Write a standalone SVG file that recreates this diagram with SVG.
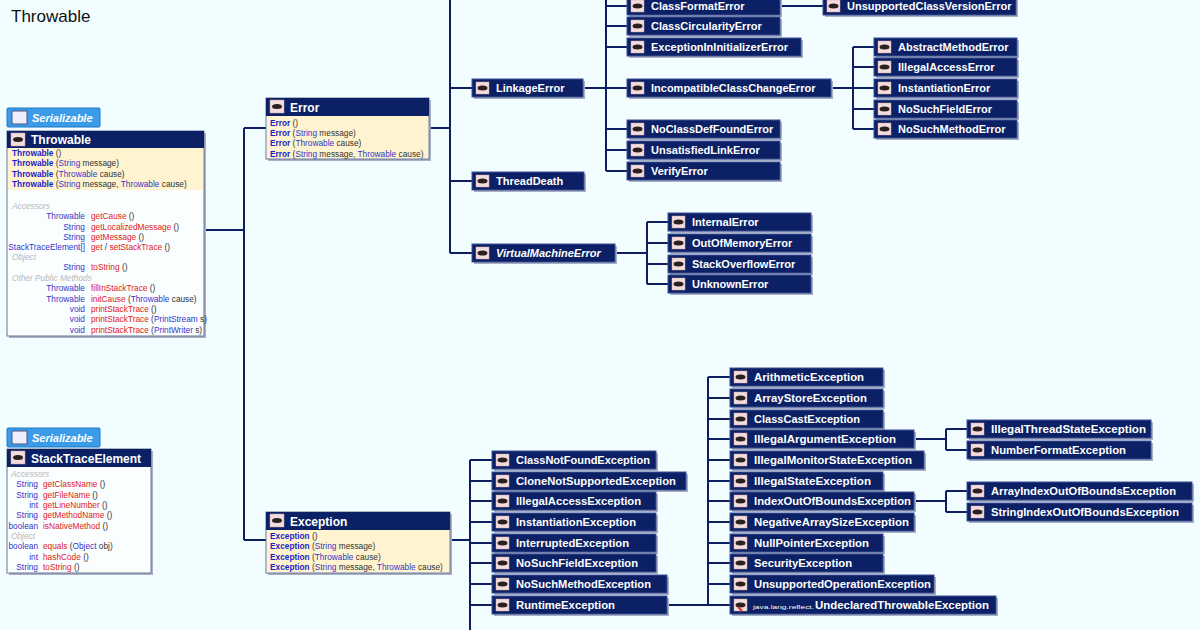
<svg xmlns="http://www.w3.org/2000/svg" width="1200" height="630" viewBox="0 0 1200 630">
<defs>
<style>
.bg{fill:#f2fdff}
.ln{stroke:#0d1f60;stroke-width:2;fill:none}
.sh{fill:#a9b0c4}
.nb{fill:#0c2165;stroke:#3b4f94;stroke-width:1}
.ic{fill:#f4dcdc;stroke:#c9a9a9;stroke-width:0.5}
.ie{fill:#2a2020}
.nt{font-family:"Liberation Sans",Arial,sans-serif;font-weight:bold;font-size:11px;fill:#fff}
.ns{font-family:"Liberation Sans",Arial,sans-serif;font-size:6px;fill:#fff}
.ci{font-style:italic}
.hd{font-family:"Liberation Sans",Arial,sans-serif;font-weight:bold;font-size:12px;fill:#fff}
.bx{fill:#fafeff;stroke:#6b7590;stroke-width:1}
.yl{fill:#fff4cf}
.m{font-family:"Liberation Sans",Arial,sans-serif;font-size:8.3px;fill:#333}
.k{fill:#1d1dc8;font-weight:bold}
.t{fill:#3535c8}
.r{fill:#e02020}
.s{fill:#b8b8b8;font-style:italic}
.tag{fill:#3a9be8;stroke:#2078c8;stroke-width:1}
.tagt{font-family:"Liberation Sans",Arial,sans-serif;font-weight:bold;font-style:italic;font-size:11px;fill:#fff}
.end{text-anchor:end}
</style>
</defs>
<rect class="bg" width="1200" height="630"/>
<text x="11" y="22" font-family="Liberation Sans,Arial,sans-serif" font-size="17" fill="#111">Throwable</text>

<g id="connectors">
<path class="ln" d="M204 230H244M244 128V540M244 128H266M244 540H266"/>
<path class="ln" d="M429 128H450M450 0V253M450 88H472M450 181H472M450 253H472"/>
<path class="ln" d="M583 88H606M606 0V171M606 6H627M606 26H627M606 47H627M606 88H627M606 129H627M606 150H627M606 171H627"/>
<path class="ln" d="M780 6H823"/>
<path class="ln" d="M831 88H853M853 47V129M853 47H874M853 67H874M853 88H874M853 109H874M853 129H874"/>
<path class="ln" d="M615 253H647M647 222V284M647 222H668M647 243H668M647 264H668M647 284H668"/>
<path class="ln" d="M450 540H470M470 460V630M470 460H492M470 481H492M470 501H492M470 522H492M470 543H492M470 563H492M470 584H492M470 605H492"/>
<path class="ln" d="M667 605H708M708 377V605M708 377H730M708 398H730M708 419H730M708 439H730M708 460H730M708 481H730M708 501H730M708 522H730M708 543H730M708 563H730M708 584H730M708 605H730"/>
<path class="ln" d="M914 439H946M946 429V450M946 429H967M946 450H967"/>
<path class="ln" d="M914 501H946M946 491V512M946 491H967M946 512H967"/>
</g>

<!-- Throwable -->
<g id="tag-throwable">
<rect class="tag" x="7" y="108" width="93" height="19" rx="1"/>
<rect x="12" y="111" width="15" height="13" fill="#eef" stroke="#557"/>
<text class="tagt" x="32" y="122">Serializable</text>
</g>
<g id="throwable">
<rect class="sh" x="9" y="133" width="197" height="205"/>
<rect class="bx" x="7" y="131" width="197" height="205"/>
<rect class="yl" x="8" y="148" width="195" height="42"/>
<rect fill="#0c2165" x="7" y="131" width="197" height="17"/>
<rect class="ic" x="11" y="133" width="14" height="13"/><ellipse class="ie" cx="18" cy="139.5" rx="5" ry="2.5"/>
<text class="hd" x="31" y="144">Throwable</text>
<text class="m" x="12" y="156"><tspan class="k">Throwable</tspan> ()</text>
<text class="m" x="12" y="166"><tspan class="k">Throwable</tspan> (<tspan class="t">String</tspan> message)</text>
<text class="m" x="12" y="177"><tspan class="k">Throwable</tspan> (<tspan class="t">Throwable</tspan> cause)</text>
<text class="m" x="12" y="187"><tspan class="k">Throwable</tspan> (<tspan class="t">String</tspan> message, <tspan class="t">Throwable</tspan> cause)</text>
<text class="m s" x="12" y="209">Accessors</text>
<text class="m t end" x="85" y="219">Throwable</text><text class="m" x="91" y="219"><tspan class="r">getCause</tspan> ()</text>
<text class="m t end" x="85" y="230">String</text><text class="m" x="91" y="230"><tspan class="r">getLocalizedMessage</tspan> ()</text>
<text class="m t end" x="85" y="240">String</text><text class="m" x="91" y="240"><tspan class="r">getMessage</tspan> ()</text>
<text class="m t end" x="85" y="250">StackTraceElement[]</text><text class="m" x="91" y="250"><tspan class="r">get</tspan> / <tspan class="r">setStackTrace</tspan> ()</text>
<text class="m s" x="12" y="260">Object</text>
<text class="m t end" x="85" y="270">String</text><text class="m" x="91" y="270"><tspan class="r">toString</tspan> ()</text>
<text class="m s" x="12" y="281">Other Public Methods</text>
<text class="m t end" x="85" y="291">Throwable</text><text class="m" x="91" y="291"><tspan class="r">fillInStackTrace</tspan> ()</text>
<text class="m t end" x="85" y="302">Throwable</text><text class="m" x="91" y="302"><tspan class="r">initCause</tspan> (<tspan class="t">Throwable</tspan> cause)</text>
<text class="m t end" x="85" y="312">void</text><text class="m" x="91" y="312"><tspan class="r">printStackTrace</tspan> ()</text>
<text class="m t end" x="85" y="322">void</text><text class="m" x="91" y="322"><tspan class="r">printStackTrace</tspan> (<tspan class="t">PrintStream</tspan> s)</text>
<text class="m t end" x="85" y="333">void</text><text class="m" x="91" y="333"><tspan class="r">printStackTrace</tspan> (<tspan class="t">PrintWriter</tspan> s)</text>
</g>

<!-- StackTraceElement -->
<g id="tag-ste">
<rect class="tag" x="7" y="428" width="93" height="19" rx="1"/>
<rect x="12" y="431" width="15" height="13" fill="#eef" stroke="#557"/>
<text class="tagt" x="32" y="442">Serializable</text>
</g>
<g id="stacktraceelement">
<rect class="sh" x="9" y="451" width="144" height="124"/>
<rect class="bx" x="7" y="449" width="144" height="124"/>
<rect fill="#0c2165" x="7" y="449" width="144" height="18"/>
<rect class="ic" x="11" y="451" width="14" height="13"/><ellipse class="ie" cx="18" cy="457.5" rx="5" ry="2.5"/>
<text class="hd" x="31" y="463">StackTraceElement</text>
<text class="m s" x="11" y="477">Accessors</text>
<text class="m t end" x="38" y="487">String</text><text class="m" x="43" y="487"><tspan class="r">getClassName</tspan> ()</text>
<text class="m t end" x="38" y="498">String</text><text class="m" x="43" y="498"><tspan class="r">getFileName</tspan> ()</text>
<text class="m t end" x="38" y="508">int</text><text class="m" x="43" y="508"><tspan class="r">getLineNumber</tspan> ()</text>
<text class="m t end" x="38" y="518">String</text><text class="m" x="43" y="518"><tspan class="r">getMethodName</tspan> ()</text>
<text class="m t end" x="38" y="529">boolean</text><text class="m" x="43" y="529"><tspan class="r">isNativeMethod</tspan> ()</text>
<text class="m s" x="11" y="539">Object</text>
<text class="m t end" x="38" y="549">boolean</text><text class="m" x="43" y="549"><tspan class="r">equals</tspan> (<tspan class="t">Object</tspan> obj)</text>
<text class="m t end" x="38" y="560">int</text><text class="m" x="43" y="560"><tspan class="r">hashCode</tspan> ()</text>
<text class="m t end" x="38" y="570">String</text><text class="m" x="43" y="570"><tspan class="r">toString</tspan> ()</text>
</g>

<!-- Error -->
<g id="error">
<rect class="sh" x="268" y="100" width="163" height="61"/>
<rect class="bx" x="266" y="98" width="163" height="61"/>
<rect class="yl" x="267" y="116" width="161" height="42"/>
<rect fill="#0c2165" x="266" y="98" width="163" height="18"/>
<rect class="ic" x="270" y="100" width="14" height="13"/><ellipse class="ie" cx="277" cy="106.5" rx="5" ry="2.5"/>
<text class="hd" x="290" y="112">Error</text>
<text class="m" x="270" y="126"><tspan class="k">Error</tspan> ()</text>
<text class="m" x="270" y="136"><tspan class="k">Error</tspan> (<tspan class="t">String</tspan> message)</text>
<text class="m" x="270" y="146"><tspan class="k">Error</tspan> (<tspan class="t">Throwable</tspan> cause)</text>
<text class="m" x="270" y="157"><tspan class="k">Error</tspan> (<tspan class="t">String</tspan> message, <tspan class="t">Throwable</tspan> cause)</text>
</g>

<!-- Exception -->
<g id="exception">
<rect class="sh" x="268" y="514" width="184" height="61"/>
<rect class="bx" x="266" y="512" width="184" height="61"/>
<rect class="yl" x="267" y="530" width="182" height="42"/>
<rect fill="#0c2165" x="266" y="512" width="184" height="18"/>
<rect class="ic" x="270" y="514" width="14" height="13"/><ellipse class="ie" cx="277" cy="520.5" rx="5" ry="2.5"/>
<text class="hd" x="290" y="526">Exception</text>
<text class="m" x="270" y="539"><tspan class="k">Exception</tspan> ()</text>
<text class="m" x="270" y="549"><tspan class="k">Exception</tspan> (<tspan class="t">String</tspan> message)</text>
<text class="m" x="270" y="560"><tspan class="k">Exception</tspan> (<tspan class="t">Throwable</tspan> cause)</text>
<text class="m" x="270" y="570"><tspan class="k">Exception</tspan> (<tspan class="t">String</tspan> message, <tspan class="t">Throwable</tspan> cause)</text>
</g>

<!-- Error-side nodes -->
<g id="LinkageError" transform="translate(472,79)"><rect class="sh" x="2" y="2" width="111" height="18"/><rect class="nb" width="111" height="18"/><rect class="ic" x="4" y="3" width="13" height="12"/><ellipse class="ie" cx="10.5" cy="9" rx="5" ry="2.5"/><text class="nt" x="24" y="13">LinkageError</text></g>
<g id="ThreadDeath" transform="translate(472,172)"><rect class="sh" x="2" y="2" width="112" height="18"/><rect class="nb" width="112" height="18"/><rect class="ic" x="4" y="3" width="13" height="12"/><ellipse class="ie" cx="10.5" cy="9" rx="5" ry="2.5"/><text class="nt" x="24" y="13">ThreadDeath</text></g>
<g id="VirtualMachineError" transform="translate(472,244)"><rect class="sh" x="2" y="2" width="143" height="18"/><rect class="nb" width="143" height="18"/><rect class="ic" x="4" y="3" width="13" height="12"/><ellipse class="ie" cx="10.5" cy="9" rx="5" ry="2.5"/><text class="nt ci" x="24" y="13">VirtualMachineError</text></g>
<g id="ClassFormatError" transform="translate(627,-3)"><rect class="sh" x="2" y="2" width="153" height="18"/><rect class="nb" width="153" height="18"/><rect class="ic" x="4" y="3" width="13" height="12"/><ellipse class="ie" cx="10.5" cy="9" rx="5" ry="2.5"/><text class="nt" x="24" y="13">ClassFormatError</text></g>
<g id="ClassCircularityError" transform="translate(627,17)"><rect class="sh" x="2" y="2" width="153" height="18"/><rect class="nb" width="153" height="18"/><rect class="ic" x="4" y="3" width="13" height="12"/><ellipse class="ie" cx="10.5" cy="9" rx="5" ry="2.5"/><text class="nt" x="24" y="13">ClassCircularityError</text></g>
<g id="ExceptionInInitializerError" transform="translate(627,38)"><rect class="sh" x="2" y="2" width="174" height="18"/><rect class="nb" width="174" height="18"/><rect class="ic" x="4" y="3" width="13" height="12"/><ellipse class="ie" cx="10.5" cy="9" rx="5" ry="2.5"/><text class="nt" x="24" y="13">ExceptionInInitializerError</text></g>
<g id="IncompatibleClassChangeError" transform="translate(627,79)"><rect class="sh" x="2" y="2" width="204" height="18"/><rect class="nb" width="204" height="18"/><rect class="ic" x="4" y="3" width="13" height="12"/><ellipse class="ie" cx="10.5" cy="9" rx="5" ry="2.5"/><text class="nt" x="24" y="13">IncompatibleClassChangeError</text></g>
<g id="NoClassDefFoundError" transform="translate(627,120)"><rect class="sh" x="2" y="2" width="153" height="18"/><rect class="nb" width="153" height="18"/><rect class="ic" x="4" y="3" width="13" height="12"/><ellipse class="ie" cx="10.5" cy="9" rx="5" ry="2.5"/><text class="nt" x="24" y="13">NoClassDefFoundError</text></g>
<g id="UnsatisfiedLinkError" transform="translate(627,141)"><rect class="sh" x="2" y="2" width="153" height="18"/><rect class="nb" width="153" height="18"/><rect class="ic" x="4" y="3" width="13" height="12"/><ellipse class="ie" cx="10.5" cy="9" rx="5" ry="2.5"/><text class="nt" x="24" y="13">UnsatisfiedLinkError</text></g>
<g id="VerifyError" transform="translate(627,162)"><rect class="sh" x="2" y="2" width="153" height="18"/><rect class="nb" width="153" height="18"/><rect class="ic" x="4" y="3" width="13" height="12"/><ellipse class="ie" cx="10.5" cy="9" rx="5" ry="2.5"/><text class="nt" x="24" y="13">VerifyError</text></g>
<g id="UnsupportedClassVersionError" transform="translate(823,-3)"><rect class="sh" x="2" y="2" width="193" height="18"/><rect class="nb" width="193" height="18"/><rect class="ic" x="4" y="3" width="13" height="12"/><ellipse class="ie" cx="10.5" cy="9" rx="5" ry="2.5"/><text class="nt" x="24" y="13">UnsupportedClassVersionError</text></g>
<g id="AbstractMethodError" transform="translate(874,38)"><rect class="sh" x="2" y="2" width="143" height="18"/><rect class="nb" width="143" height="18"/><rect class="ic" x="4" y="3" width="13" height="12"/><ellipse class="ie" cx="10.5" cy="9" rx="5" ry="2.5"/><text class="nt" x="24" y="13">AbstractMethodError</text></g>
<g id="IllegalAccessError" transform="translate(874,58)"><rect class="sh" x="2" y="2" width="143" height="18"/><rect class="nb" width="143" height="18"/><rect class="ic" x="4" y="3" width="13" height="12"/><ellipse class="ie" cx="10.5" cy="9" rx="5" ry="2.5"/><text class="nt" x="24" y="13">IllegalAccessError</text></g>
<g id="InstantiationError" transform="translate(874,79)"><rect class="sh" x="2" y="2" width="143" height="18"/><rect class="nb" width="143" height="18"/><rect class="ic" x="4" y="3" width="13" height="12"/><ellipse class="ie" cx="10.5" cy="9" rx="5" ry="2.5"/><text class="nt" x="24" y="13">InstantiationError</text></g>
<g id="NoSuchFieldError" transform="translate(874,100)"><rect class="sh" x="2" y="2" width="143" height="18"/><rect class="nb" width="143" height="18"/><rect class="ic" x="4" y="3" width="13" height="12"/><ellipse class="ie" cx="10.5" cy="9" rx="5" ry="2.5"/><text class="nt" x="24" y="13">NoSuchFieldError</text></g>
<g id="NoSuchMethodError" transform="translate(874,120)"><rect class="sh" x="2" y="2" width="143" height="18"/><rect class="nb" width="143" height="18"/><rect class="ic" x="4" y="3" width="13" height="12"/><ellipse class="ie" cx="10.5" cy="9" rx="5" ry="2.5"/><text class="nt" x="24" y="13">NoSuchMethodError</text></g>
<g id="InternalError" transform="translate(668,213)"><rect class="sh" x="2" y="2" width="143" height="18"/><rect class="nb" width="143" height="18"/><rect class="ic" x="4" y="3" width="13" height="12"/><ellipse class="ie" cx="10.5" cy="9" rx="5" ry="2.5"/><text class="nt" x="24" y="13">InternalError</text></g>
<g id="OutOfMemoryError" transform="translate(668,234)"><rect class="sh" x="2" y="2" width="143" height="18"/><rect class="nb" width="143" height="18"/><rect class="ic" x="4" y="3" width="13" height="12"/><ellipse class="ie" cx="10.5" cy="9" rx="5" ry="2.5"/><text class="nt" x="24" y="13">OutOfMemoryError</text></g>
<g id="StackOverflowError" transform="translate(668,255)"><rect class="sh" x="2" y="2" width="143" height="18"/><rect class="nb" width="143" height="18"/><rect class="ic" x="4" y="3" width="13" height="12"/><ellipse class="ie" cx="10.5" cy="9" rx="5" ry="2.5"/><text class="nt" x="24" y="13">StackOverflowError</text></g>
<g id="UnknownError" transform="translate(668,275)"><rect class="sh" x="2" y="2" width="143" height="18"/><rect class="nb" width="143" height="18"/><rect class="ic" x="4" y="3" width="13" height="12"/><ellipse class="ie" cx="10.5" cy="9" rx="5" ry="2.5"/><text class="nt" x="24" y="13">UnknownError</text></g>

<!-- Exception-side nodes -->
<g id="ClassNotFoundException" transform="translate(492,451)"><rect class="sh" x="2" y="2" width="164" height="18"/><rect class="nb" width="164" height="18"/><rect class="ic" x="4" y="3" width="13" height="12"/><ellipse class="ie" cx="10.5" cy="9" rx="5" ry="2.5"/><text class="nt" x="24" y="13" textLength="134" lengthAdjust="spacingAndGlyphs">ClassNotFoundException</text></g>
<g id="CloneNotSupportedException" transform="translate(492,472)"><rect class="sh" x="2" y="2" width="194" height="18"/><rect class="nb" width="194" height="18"/><rect class="ic" x="4" y="3" width="13" height="12"/><ellipse class="ie" cx="10.5" cy="9" rx="5" ry="2.5"/><text class="nt" x="24" y="13" textLength="160" lengthAdjust="spacingAndGlyphs">CloneNotSupportedException</text></g>
<g id="IllegalAccessException" transform="translate(492,492)"><rect class="sh" x="2" y="2" width="164" height="18"/><rect class="nb" width="164" height="18"/><rect class="ic" x="4" y="3" width="13" height="12"/><ellipse class="ie" cx="10.5" cy="9" rx="5" ry="2.5"/><text class="nt" x="24" y="13" textLength="125" lengthAdjust="spacingAndGlyphs">IllegalAccessException</text></g>
<g id="InstantiationException" transform="translate(492,513)"><rect class="sh" x="2" y="2" width="164" height="18"/><rect class="nb" width="164" height="18"/><rect class="ic" x="4" y="3" width="13" height="12"/><ellipse class="ie" cx="10.5" cy="9" rx="5" ry="2.5"/><text class="nt" x="24" y="13" textLength="120" lengthAdjust="spacingAndGlyphs">InstantiationException</text></g>
<g id="InterruptedException" transform="translate(492,534)"><rect class="sh" x="2" y="2" width="164" height="18"/><rect class="nb" width="164" height="18"/><rect class="ic" x="4" y="3" width="13" height="12"/><ellipse class="ie" cx="10.5" cy="9" rx="5" ry="2.5"/><text class="nt" x="24" y="13" textLength="113" lengthAdjust="spacingAndGlyphs">InterruptedException</text></g>
<g id="NoSuchFieldException" transform="translate(492,554)"><rect class="sh" x="2" y="2" width="164" height="18"/><rect class="nb" width="164" height="18"/><rect class="ic" x="4" y="3" width="13" height="12"/><ellipse class="ie" cx="10.5" cy="9" rx="5" ry="2.5"/><text class="nt" x="24" y="13" textLength="122" lengthAdjust="spacingAndGlyphs">NoSuchFieldException</text></g>
<g id="NoSuchMethodException" transform="translate(492,575)"><rect class="sh" x="2" y="2" width="175" height="18"/><rect class="nb" width="175" height="18"/><rect class="ic" x="4" y="3" width="13" height="12"/><ellipse class="ie" cx="10.5" cy="9" rx="5" ry="2.5"/><text class="nt" x="24" y="13" textLength="135" lengthAdjust="spacingAndGlyphs">NoSuchMethodException</text></g>
<g id="RuntimeException" transform="translate(492,596)"><rect class="sh" x="2" y="2" width="175" height="18"/><rect class="nb" width="175" height="18"/><rect class="ic" x="4" y="3" width="13" height="12"/><ellipse class="ie" cx="10.5" cy="9" rx="5" ry="2.5"/><text class="nt" x="24" y="13" textLength="99" lengthAdjust="spacingAndGlyphs">RuntimeException</text></g>
<g id="ArithmeticException" transform="translate(730,368)"><rect class="sh" x="2" y="2" width="153" height="18"/><rect class="nb" width="153" height="18"/><rect class="ic" x="4" y="3" width="13" height="12"/><ellipse class="ie" cx="10.5" cy="9" rx="5" ry="2.5"/><text class="nt" x="24" y="13" textLength="110" lengthAdjust="spacingAndGlyphs">ArithmeticException</text></g>
<g id="ArrayStoreException" transform="translate(730,389)"><rect class="sh" x="2" y="2" width="153" height="18"/><rect class="nb" width="153" height="18"/><rect class="ic" x="4" y="3" width="13" height="12"/><ellipse class="ie" cx="10.5" cy="9" rx="5" ry="2.5"/><text class="nt" x="24" y="13" textLength="113" lengthAdjust="spacingAndGlyphs">ArrayStoreException</text></g>
<g id="ClassCastException" transform="translate(730,410)"><rect class="sh" x="2" y="2" width="153" height="18"/><rect class="nb" width="153" height="18"/><rect class="ic" x="4" y="3" width="13" height="12"/><ellipse class="ie" cx="10.5" cy="9" rx="5" ry="2.5"/><text class="nt" x="24" y="13" textLength="106" lengthAdjust="spacingAndGlyphs">ClassCastException</text></g>
<g id="IllegalArgumentException" transform="translate(730,430)"><rect class="sh" x="2" y="2" width="184" height="18"/><rect class="nb" width="184" height="18"/><rect class="ic" x="4" y="3" width="13" height="12"/><ellipse class="ie" cx="10.5" cy="9" rx="5" ry="2.5"/><text class="nt" x="24" y="13" textLength="142" lengthAdjust="spacingAndGlyphs">IllegalArgumentException</text></g>
<g id="IllegalMonitorStateException" transform="translate(730,451)"><rect class="sh" x="2" y="2" width="194" height="18"/><rect class="nb" width="194" height="18"/><rect class="ic" x="4" y="3" width="13" height="12"/><ellipse class="ie" cx="10.5" cy="9" rx="5" ry="2.5"/><text class="nt" x="24" y="13" textLength="158" lengthAdjust="spacingAndGlyphs">IllegalMonitorStateException</text></g>
<g id="IllegalStateException" transform="translate(730,472)"><rect class="sh" x="2" y="2" width="153" height="18"/><rect class="nb" width="153" height="18"/><rect class="ic" x="4" y="3" width="13" height="12"/><ellipse class="ie" cx="10.5" cy="9" rx="5" ry="2.5"/><text class="nt" x="24" y="13" textLength="117" lengthAdjust="spacingAndGlyphs">IllegalStateException</text></g>
<g id="IndexOutOfBoundsException" transform="translate(730,492)"><rect class="sh" x="2" y="2" width="184" height="18"/><rect class="nb" width="184" height="18"/><rect class="ic" x="4" y="3" width="13" height="12"/><ellipse class="ie" cx="10.5" cy="9" rx="5" ry="2.5"/><text class="nt" x="24" y="13" textLength="157" lengthAdjust="spacingAndGlyphs">IndexOutOfBoundsException</text></g>
<g id="NegativeArraySizeException" transform="translate(730,513)"><rect class="sh" x="2" y="2" width="184" height="18"/><rect class="nb" width="184" height="18"/><rect class="ic" x="4" y="3" width="13" height="12"/><ellipse class="ie" cx="10.5" cy="9" rx="5" ry="2.5"/><text class="nt" x="24" y="13" textLength="155" lengthAdjust="spacingAndGlyphs">NegativeArraySizeException</text></g>
<g id="NullPointerException" transform="translate(730,534)"><rect class="sh" x="2" y="2" width="153" height="18"/><rect class="nb" width="153" height="18"/><rect class="ic" x="4" y="3" width="13" height="12"/><ellipse class="ie" cx="10.5" cy="9" rx="5" ry="2.5"/><text class="nt" x="24" y="13" textLength="115" lengthAdjust="spacingAndGlyphs">NullPointerException</text></g>
<g id="SecurityException" transform="translate(730,554)"><rect class="sh" x="2" y="2" width="153" height="18"/><rect class="nb" width="153" height="18"/><rect class="ic" x="4" y="3" width="13" height="12"/><ellipse class="ie" cx="10.5" cy="9" rx="5" ry="2.5"/><text class="nt" x="24" y="13" textLength="98" lengthAdjust="spacingAndGlyphs">SecurityException</text></g>
<g id="UnsupportedOperationException" transform="translate(730,575)"><rect class="sh" x="2" y="2" width="204" height="18"/><rect class="nb" width="204" height="18"/><rect class="ic" x="4" y="3" width="13" height="12"/><ellipse class="ie" cx="10.5" cy="9" rx="5" ry="2.5"/><text class="nt" x="24" y="13" textLength="177" lengthAdjust="spacingAndGlyphs">UnsupportedOperationException</text></g>
<g id="UndeclaredThrowableException" transform="translate(730,596)"><rect class="sh" x="2" y="2" width="266" height="18"/><rect class="nb" width="266" height="18"/><rect class="ic" x="4" y="3" width="13" height="12"/><ellipse class="ie" cx="10.5" cy="9" rx="5" ry="2.5"/><path d="M8 11 L12 15" stroke="#e03010" stroke-width="2"/><text class="ns" x="23" y="13" textLength="61" lengthAdjust="spacingAndGlyphs">java.lang.reflect.</text><text class="nt" x="85" y="13" textLength="174" lengthAdjust="spacingAndGlyphs">UndeclaredThrowableException</text></g>
<g id="IllegalThreadStateException" transform="translate(967,420)"><rect class="sh" x="2" y="2" width="184" height="18"/><rect class="nb" width="184" height="18"/><rect class="ic" x="4" y="3" width="13" height="12"/><ellipse class="ie" cx="10.5" cy="9" rx="5" ry="2.5"/><text class="nt" x="24" y="13" textLength="155" lengthAdjust="spacingAndGlyphs">IllegalThreadStateException</text></g>
<g id="NumberFormatException" transform="translate(967,441)"><rect class="sh" x="2" y="2" width="184" height="18"/><rect class="nb" width="184" height="18"/><rect class="ic" x="4" y="3" width="13" height="12"/><ellipse class="ie" cx="10.5" cy="9" rx="5" ry="2.5"/><text class="nt" x="24" y="13" textLength="135" lengthAdjust="spacingAndGlyphs">NumberFormatException</text></g>
<g id="ArrayIndexOutOfBoundsException" transform="translate(967,482)"><rect class="sh" x="2" y="2" width="225" height="18"/><rect class="nb" width="225" height="18"/><rect class="ic" x="4" y="3" width="13" height="12"/><ellipse class="ie" cx="10.5" cy="9" rx="5" ry="2.5"/><text class="nt" x="24" y="13" textLength="185" lengthAdjust="spacingAndGlyphs">ArrayIndexOutOfBoundsException</text></g>
<g id="StringIndexOutOfBoundsException" transform="translate(967,503)"><rect class="sh" x="2" y="2" width="225" height="18"/><rect class="nb" width="225" height="18"/><rect class="ic" x="4" y="3" width="13" height="12"/><ellipse class="ie" cx="10.5" cy="9" rx="5" ry="2.5"/><text class="nt" x="24" y="13" textLength="188" lengthAdjust="spacingAndGlyphs">StringIndexOutOfBoundsException</text></g>
</svg>
